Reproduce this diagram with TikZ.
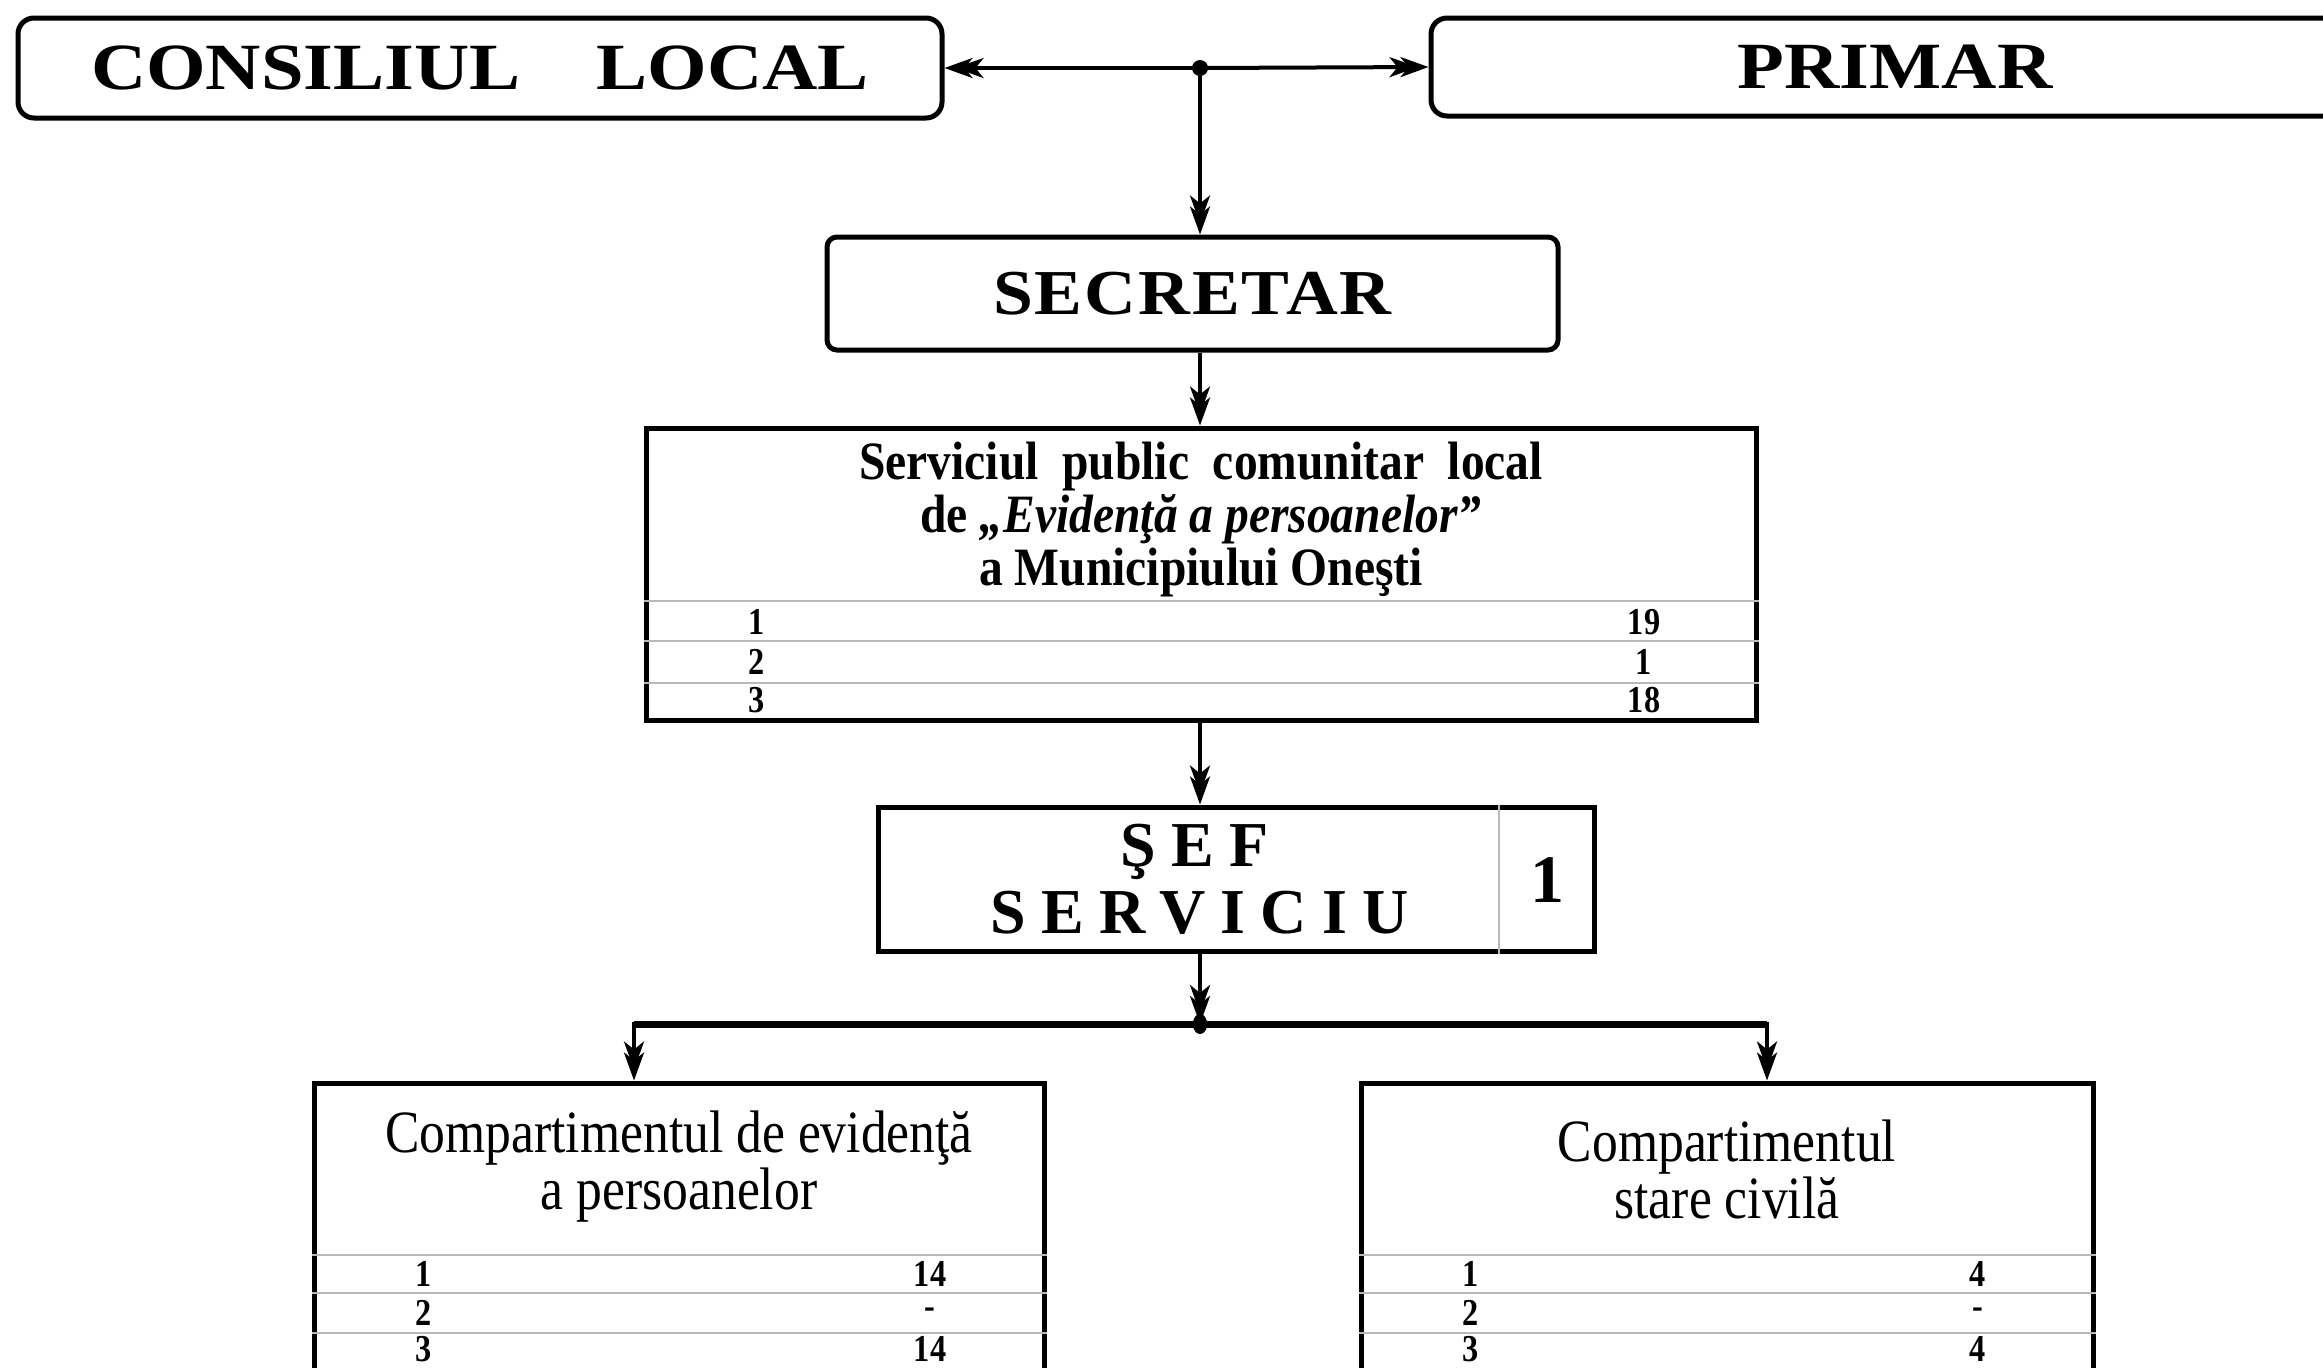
\documentclass[tikz,border=0pt]{standalone}
\usepackage{fontspec}
\setmainfont{Liberation Serif}
\newfontfamily\widef{Liberation Serif}[FakeStretch=1.16]
\newfontfamily\condf{Liberation Serif}[FakeStretch=0.88]
\newfontfamily\numf{Liberation Serif}[FakeStretch=0.85]
\newfontfamily\compf{Liberation Serif}[FakeStretch=0.86]
\newfontfamily\secf{Liberation Serif}[FakeStretch=1.12,LetterSpace=3]
\newfontfamily\seff{Liberation Serif}[LetterSpace=24]
\usetikzlibrary{arrows.meta}
\tikzset{
  rbox/.style={draw, line width=2.5pt, rounded corners=8pt, inner sep=0pt},
  sbox/.style={draw, line width=2.5pt, inner sep=0pt},
  conn/.style={line width=2pt, -{Stealth[length=14pt,width=10pt,inset=4pt,sep=-8.5pt]Stealth[length=14pt,width=10pt,inset=4pt]}},
  sepl/.style={gray!55, line width=1pt},
  num/.style={font=\numf\bfseries\fontsize{19}{19}\selectfont, inner sep=0pt},
  bigt/.style={font=\widef\bfseries\fontsize{33}{33}\selectfont},
}
\begin{document}
\begin{tikzpicture}[x=0.5pt,y=-0.5pt]
\useasboundingbox (0,0) rectangle (2323,1367);
\fill[white] (0,0) rectangle (2323,1367);
% top row
\node[rbox, bigt, minimum width=462pt, minimum height=50pt] (cl) at (480,68) {CONSILIUL\hspace{38pt}LOCAL};
\node[rbox, bigt, minimum width=464pt, minimum height=49pt] (pr) at (1895,67) {PRIMAR};
\coordinate (j1) at (1200,68);
\fill (j1) circle (4pt);
\draw[conn] (j1) -- (cl.east);
\draw[conn] (j1) -- (pr.west);
% secretar
\node[rbox, rounded corners=5pt, minimum width=365.5pt, minimum height=56.5pt,
      font=\secf\bfseries\fontsize{32}{32}\selectfont] (sec) at (1192.5,293.5) {SECRETAR};
\draw[conn] (j1) -- (sec.north -| j1);
% serviciul
\node[sbox, minimum width=555pt, minimum height=146pt] (sp) at (1201,574) {};
\node[font=\condf\bfseries\fontsize{27}{26.5}\selectfont, align=center, inner sep=0pt] (spt) at (1201,519)
  {Serviciul\ \ public\ \ comunitar\ \ local\\ de \textit{„Evidenţă a persoanelor”}\\ a Municipiului Oneşti};
\draw[sepl] (sp.west |- 0,601) -- (sp.east |- 0,601);
\draw[sepl] (sp.west |- 0,641) -- (sp.east |- 0,641);
\draw[sepl] (sp.west |- 0,683) -- (sp.east |- 0,683);
\node[num] (sa1) at (757,622) {1};
\node[num] (sb1) at (1644,622) {19};
\node[num] (sa2) at (757,662) {2};
\node[num] (sb2) at (1644,662) {1};
\node[num] (sa3) at (757,700) {3};
\node[num] (sb3) at (1644,700) {18};
\draw[conn] (sec.south -| j1) -- (sp.north -| j1);
% sef serviciu
\node[sbox, minimum width=358pt, minimum height=72pt] (sef) at (1236,879) {};
\coordinate (dv) at (1499,0);
\draw[sepl] (sef.north -| dv) -- (sef.south -| dv);
\node[font=\seff\bfseries\fontsize{32}{32}\selectfont, inner sep=0pt] (seft1) at (1195,852) {ŞEF};
\node[font=\seff\bfseries\fontsize{32}{32}\selectfont, inner sep=0pt] (seft2) at (1200,913) {SERVICIU};
\node[font=\bfseries\fontsize{34}{34}\selectfont, inner sep=0pt] (sefn) at (1547,880) {1};
\draw[conn] (sp.south -| j1) -- (sef.north -| j1);
% bottom junction
\coordinate (j2) at (1200,1024);
\coordinate (lt) at (634,1024);
\coordinate (rt) at (1767,1024);
\draw[conn] (sef.south -| j1) -- (j2);
\draw[line width=3.5pt] (lt) -- (rt);
\fill (j2) ellipse (3.6pt and 5pt);
% compartments
\node[sbox, minimum width=365pt, minimum height=168.5pt] (cpl) at (679,1251.5) {};
\node[sbox, minimum width=366pt, minimum height=168.5pt] (cpr) at (1727,1251.5) {};
\draw[conn] ([yshift=0.9pt]lt) -- (cpl.north -| lt);
\draw[conn] ([yshift=0.9pt]rt) -- (cpr.north -| rt);
\node[font=\compf\fontsize{30}{28.5}\selectfont, align=center, inner sep=0pt] (cplt) at (679,1167)
  {Compartimentul de evidenţă\\a persoanelor};
\node[font=\compf\fontsize{30}{28.5}\selectfont, align=center, inner sep=0pt] (cprt) at (1727,1169)
  {Compartimentul\\stare civilă};
\foreach \yy in {1255,1293,1333} {
  \draw[sepl] (cpl.west |- 0,\yy) -- (cpl.east |- 0,\yy);
  \draw[sepl] (cpr.west |- 0,\yy) -- (cpr.east |- 0,\yy);
}
\node[num] (la1) at (424,1274) {1};
\node[num] (lb1) at (930,1274) {14};
\node[num] (la2) at (424,1313) {2};
\node[num] (lb2) at (930,1313) {-};
\node[num] (la3) at (424,1349) {3};
\node[num] (lb3) at (930,1349) {14};
\node[num] (ra1) at (1471,1274) {1};
\node[num] (rb1) at (1978,1274) {4};
\node[num] (ra2) at (1471,1313) {2};
\node[num] (rb2) at (1978,1313) {-};
\node[num] (ra3) at (1471,1349) {3};
\node[num] (rb3) at (1978,1349) {4};
\end{tikzpicture}
\end{document}
